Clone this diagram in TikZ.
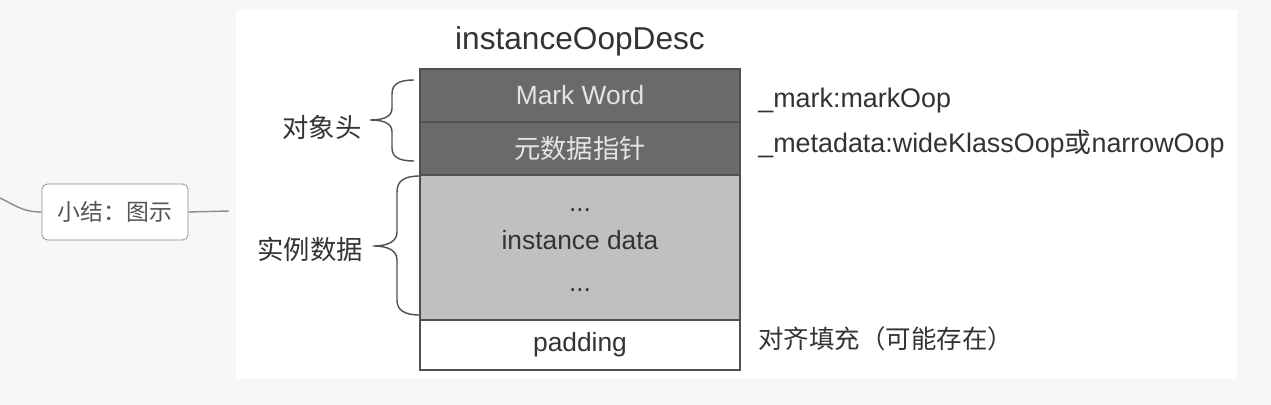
\documentclass[tikz,border=0pt]{standalone}
\usepackage{fontspec}
\setmainfont{Liberation Sans}
\newfontfamily\cjk{Noto Sans CJK SC}
\usetikzlibrary{positioning}
\definecolor{gray0}{RGB}{247,247,247}
\definecolor{gray1}{RGB}{106,106,106}
\definecolor{gray2}{RGB}{192,192,192}
\definecolor{gray3}{RGB}{80,80,80}
\definecolor{gray4}{RGB}{51,51,51}
\definecolor{gray5}{RGB}{228,228,228}
\definecolor{gray6}{RGB}{140,140,140}
\definecolor{gray7}{RGB}{85,85,85}
\tikzset{
  field/.style={rectangle,draw=gray3,line width=0.7pt,inner sep=0mm,minimum width=6.4cm},
  txt/.style={inner sep=0mm,text=gray4,font=\fontsize{15}{18}\selectfont},
  curly/.style={draw=gray3,line width=0.8pt},
}

\begin{document}
\begin{tikzpicture}[x=0.02cm,y=-0.02cm]
\useasboundingbox (0,0) rectangle (1271,405);
\fill[gray0] (0,0) rectangle (1271,405);
\fill[white] (236,10) rectangle (1237,379);
%
\node[draw=gray6,rounded corners=3pt,fill=white,inner sep=0mm,minimum width=2.92cm,minimum height=1.12cm,text=gray7,font=\cjk\fontsize{13}{15}\selectfont] (summary) at (115,212) {小结：图示};
\coordinate (branch) at (0,198);
\coordinate (stub) at (229,211);
\draw[gray6,line width=0.8pt] (branch) .. controls (15,205) and (22,212) .. (summary.west);
\draw[gray6,line width=0.8pt] (summary.east) -- (stub);
%
\node[txt,font=\fontsize{18}{21}\selectfont,anchor=base] (title) at (580,50) {instanceOopDesc};
%
\node[field,fill=gray1,minimum height=1.06cm,text=gray5,font=\fontsize{15}{18}\selectfont] (mark) at (580,95.5) {Mark Word};
\node[field,fill=gray1,minimum height=1.06cm,text=gray5,font=\cjk\fontsize{15}{18}\selectfont] (meta) at (580,148.5) {元数据指针};
\node[field,fill=gray2,minimum height=2.9cm] (inst) at (580,247.5) {};
\node[field,fill=white,minimum height=1.0cm,text=gray4,font=\fontsize{15}{18}\selectfont] (pad) at (580,345) {padding};
%
\node[txt,anchor=base] (dotsa) at (580,212) {...};
\node[txt,anchor=base] (instlbl) at (580,250) {instance data};
\node[txt,anchor=base] (dotsb) at (580,292) {...};
%
\draw[curly] (414,80) .. controls (399,80) and (392,84) .. (392,94) -- (392,108) .. controls (392,116) and (385,120) .. (370,120) .. controls (385,120) and (392,124) .. (392,132) -- (392,148) .. controls (392,157) and (399,161) .. (414,161);
\draw[curly] (420,176) .. controls (404,176) and (397,181) .. (397,192) -- (397,232) .. controls (397,241) and (389,246) .. (373,246) .. controls (389,246) and (397,251) .. (397,260) -- (397,300) .. controls (397,310) and (404,315) .. (420,315);
\node[txt,font=\cjk\fontsize{15}{18}\selectfont] (head) at (322,127) {对象头};
\node[txt,font=\cjk\fontsize{15}{18}\selectfont] (body) at (310,249) {实例数据};
%
\node[txt,anchor=base west,font=\fontsize{15.3}{18}\selectfont] (marklbl) at (758,108) {\_mark:markOop};
\node[txt,anchor=base west,font=\fontsize{15.3}{18}\selectfont] (metalbl) at (758,153) {\_metadata:wideKlassOop{\cjk 或}narrowOop};
\node[txt,anchor=west,font=\cjk\fontsize{14.5}{17}\selectfont] (padlbl) at (758,339) {对齐填充（可能存在）};
\end{tikzpicture}
\end{document}
